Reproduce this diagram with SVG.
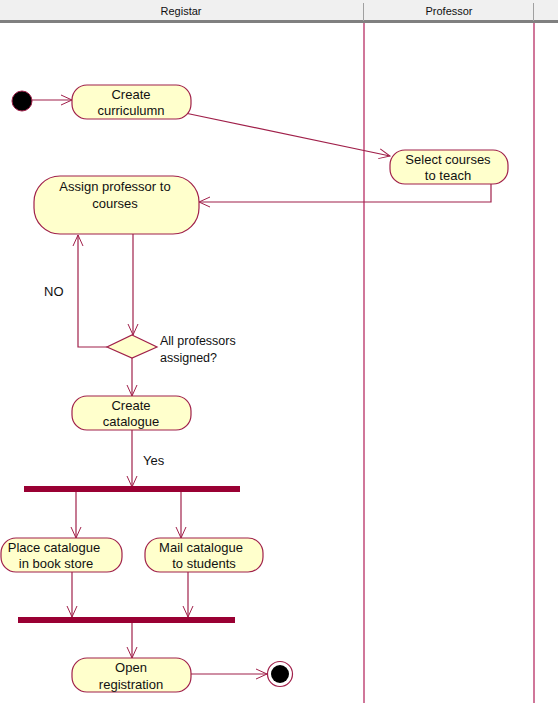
<svg xmlns="http://www.w3.org/2000/svg" width="558" height="703" viewBox="0 0 558 703">
<defs>
<marker id="arr" markerUnits="userSpaceOnUse" markerWidth="12" markerHeight="12" refX="11" refY="5" orient="auto" viewBox="0 0 12 10">
<path d="M0,0 L11,5 L0,10" fill="none" stroke="#a0204a" stroke-width="1"/>
</marker>
</defs>
<style>
.act{fill:#ffffcc;stroke:#a0204a;stroke-width:1.2}
.t{font-family:"Liberation Sans",Arial,sans-serif;font-size:13px;fill:#111;text-anchor:middle}
.lbl{font-family:"Liberation Sans",Arial,sans-serif;font-size:13px;fill:#111}
.hd{font-family:"Liberation Sans",Arial,sans-serif;font-size:11px;fill:#111;text-anchor:middle}
.c{fill:none;stroke:#a0204a;stroke-width:1.2}
.bar{fill:#990033}
.lane{stroke:#c04a78;stroke-width:1.5}
</style>
<rect width="558" height="703" fill="#ffffff"/>
<g id="header">
<rect x="0" y="0" width="558" height="21" fill="#f0f0f0"/>
<rect x="0" y="20" width="558" height="3" fill="#808080"/>
<line x1="363.5" y1="3" x2="363.5" y2="21" stroke="#a0a0a0"/>
<line x1="533.5" y1="3" x2="533.5" y2="21" stroke="#a0a0a0"/>
<text class="hd" x="181" y="15">Registar</text>
<text class="hd" x="449" y="15">Professor</text>
</g>
<g id="lanes">
<line class="lane" x1="364" y1="23" x2="364" y2="703"/>
<line class="lane" x1="534" y1="23" x2="534" y2="703" stroke="#c87898"/>
</g>
<g id="connectors">
<line class="c" x1="32" y1="100" x2="72" y2="100" marker-end="url(#arr)"/>
<line class="c" x1="185" y1="113" x2="390" y2="156" marker-end="url(#arr)"/>
<polyline class="c" points="491,184 491,202 199,202" marker-end="url(#arr)"/>
<line class="c" x1="133" y1="234" x2="133" y2="335" marker-end="url(#arr)"/>
<polyline class="c" points="107,347 78,347 78,235" marker-end="url(#arr)"/>
<line class="c" x1="132" y1="358" x2="132" y2="396" marker-end="url(#arr)"/>
<line class="c" x1="132" y1="430" x2="132" y2="487" marker-end="url(#arr)"/>
<line class="c" x1="76" y1="492" x2="76" y2="538" marker-end="url(#arr)"/>
<line class="c" x1="181" y1="492" x2="181" y2="538" marker-end="url(#arr)"/>
<line class="c" x1="72" y1="572" x2="72" y2="617" marker-end="url(#arr)"/>
<line class="c" x1="188" y1="572" x2="188" y2="617" marker-end="url(#arr)"/>
<line class="c" x1="132" y1="622" x2="132" y2="658" marker-end="url(#arr)"/>
<line class="c" x1="191" y1="674" x2="267" y2="674" marker-end="url(#arr)"/>
<text class="lbl" x="44" y="296">NO</text>
<text class="lbl" x="143" y="465">Yes</text>
</g>
<g id="start">
<circle cx="22" cy="101" r="10" fill="#000" stroke="#a0204a" stroke-width="1"/>
</g>
<g id="create-curriculumn">
<rect class="act" x="72" y="85" width="119" height="34" rx="15" ry="15"/>
<text class="t" x="131" y="99">Create</text>
<text class="t" x="131" y="115">curriculumn</text>
</g>
<g id="select-courses">
<rect class="act" x="390" y="150" width="118" height="34" rx="15" ry="15"/>
<text class="t" x="448" y="164">Select courses</text>
<text class="t" x="448" y="180">to teach</text>
</g>
<g id="assign-professor">
<rect class="act" x="34" y="176" width="165" height="58" rx="26" ry="26"/>
<text class="t" x="115" y="191">Assign professor to</text>
<text class="t" x="115" y="208">courses</text>
</g>
<g id="decision">
<polygon class="act" points="132,335 157,347 132,358 107,347"/>
<text class="lbl" x="160" y="345" style="font-size:12.5px">All professors</text>
<text class="lbl" x="160" y="362" style="font-size:12.5px">assigned?</text>
</g>
<g id="create-catalogue">
<rect class="act" x="72" y="396" width="119" height="34" rx="15" ry="15"/>
<text class="t" x="131" y="410">Create</text>
<text class="t" x="131" y="426">catalogue</text>
</g>
<g id="fork">
<rect class="bar" x="24" y="486" width="216" height="6"/>
</g>
<g id="place-catalogue">
<rect class="act" x="1" y="538" width="121" height="34" rx="15" ry="15"/>
<text class="t" x="54" y="552">Place catalogue</text>
<text class="t" x="56" y="568">in book store</text>
</g>
<g id="mail-catalogue">
<rect class="act" x="145" y="538" width="118" height="34" rx="15" ry="15"/>
<text class="t" x="201" y="552">Mail catalogue</text>
<text class="t" x="204" y="568">to students</text>
</g>
<g id="join">
<rect class="bar" x="18" y="617" width="217" height="6"/>
</g>
<g id="open-registration">
<rect class="act" x="72" y="658" width="119" height="34" rx="15" ry="15"/>
<text class="t" x="131" y="672">Open</text>
<text class="t" x="131" y="689">registration</text>
</g>
<g id="end">
<circle cx="280" cy="674" r="12.5" fill="#fff" stroke="#a0204a" stroke-width="1.2"/>
<circle cx="280" cy="674" r="9" fill="#000"/>
</g>
</svg>
